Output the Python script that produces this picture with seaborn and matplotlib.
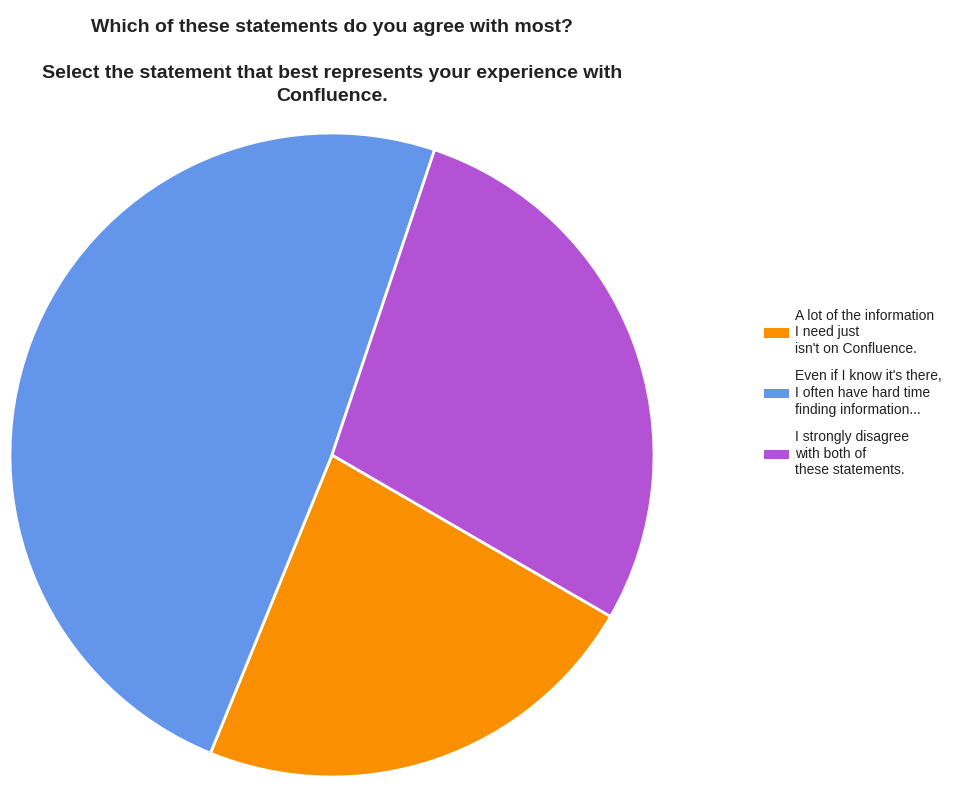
import matplotlib
matplotlib.use("Agg")
import matplotlib.pyplot as plt
import seaborn as sns
from matplotlib.patches import Patch

sns.set_theme(style="white")
plt.rcParams['font.family'] = ['Liberation Sans', 'DejaVu Sans']

categories = ["A lot of the information\nI need just\nisn't on Confluence.",
              "Even if I know it's there,\nI often have hard time\nfinding information...",
              "I strongly disagree\nwith both of\nthese statements."]
values = [22.8, 49.0, 28.2]
colors = ["#fa9000", "#6395ea", "#b452d6"]

fig = plt.figure(figsize=(9.6, 7.97), dpi=100)
W, H = 960, 797
cx, cy, r = 332, 455, 322
ax = fig.add_axes([(cx - r) / W, (H - cy - r) / H, 2 * r / W, 2 * r / H])
ax.pie(values, colors=colors, startangle=-30.1, counterclock=False,
       wedgeprops=dict(edgecolor="white", linewidth=2), radius=1.0)
ax.set_xlim(-1, 1)
ax.set_ylim(-1, 1)
ax.set_aspect("equal")
ax.axis("off")

fig.text(332 / W, 1 - 27 / H, "Which of these statements do you agree with most?",
         ha="center", va="center", fontsize=14, fontweight="bold", color="#222222")
fig.text(332 / W, 1 - 85 / H, "Select the statement that best represents your experience with\nConfluence.",
         ha="center", va="center", fontsize=14, fontweight="bold", color="#222222",
         linespacing=1.4)

handles = [Patch(facecolor=c, edgecolor="none") for c in colors]
leg = fig.legend(handles, categories, loc="center left",
                 bbox_to_anchor=(751 / W, 1 - 393 / H), frameon=False,
                 fontsize=10, handlelength=1.8, handleheight=0.65,
                 handletextpad=0.45, labelspacing=0.95)
for t in leg.get_texts():
    t.set_color("#222222")
    t.set_linespacing(1.25)

fig.savefig("out.png", dpi=100, facecolor="white")
